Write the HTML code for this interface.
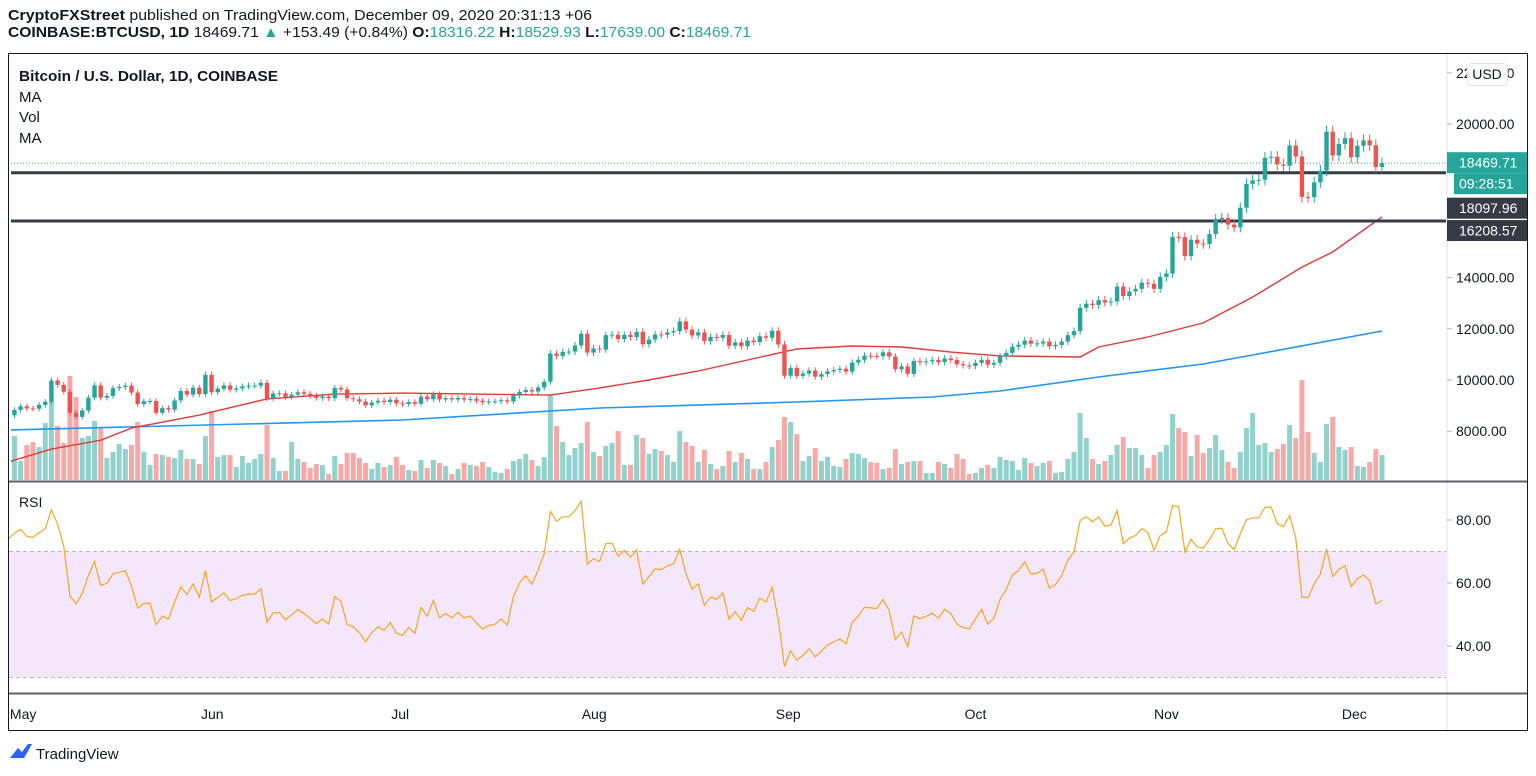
<!DOCTYPE html>
<html><head><meta charset="utf-8"><style>
html,body{margin:0;padding:0;background:#fff;width:1536px;height:776px;overflow:hidden;font-family:"Liberation Sans",sans-serif;}
svg{display:block}
text{font-family:"Liberation Sans",sans-serif;}
</style></head><body>
<svg id="chart" width="1536" height="776" viewBox="0 0 1536 776" xmlns="http://www.w3.org/2000/svg">
  <defs>
    <clipPath id="mainClip"><rect x="11" y="54" width="1435" height="426"/></clipPath>
    <clipPath id="rsiClip"><rect x="9" y="483" width="1437" height="209"/></clipPath>
    <clipPath id="timeClip"><rect x="9" y="694" width="1437" height="36"/></clipPath>
  </defs>
  <text x="8" y="20" font-size="15" fill="#131722" textLength="584" lengthAdjust="spacingAndGlyphs"><tspan font-weight="bold">CryptoFXStreet</tspan> published on TradingView.com, December 09, 2020 20:31:13 +06</text>
  <text x="8" y="37" font-size="15" fill="#131722" textLength="743" lengthAdjust="spacingAndGlyphs"><tspan font-weight="bold">COINBASE:BTCUSD, 1D</tspan> 18469.71 <tspan fill="#26a69a">▲</tspan> +153.49 (+0.84%) <tspan font-weight="bold">O:</tspan><tspan fill="#26a69a">18316.22</tspan> <tspan font-weight="bold">H:</tspan><tspan fill="#26a69a">18529.93</tspan> <tspan font-weight="bold">L:</tspan><tspan fill="#26a69a">17639.00</tspan> <tspan font-weight="bold">C:</tspan><tspan fill="#26a69a">18469.71</tspan></text>

  <rect x="8.5" y="53.5" width="1519" height="677" fill="#fff" stroke="#131722" stroke-width="1"/>
  <rect x="9" y="551.5" width="1437" height="126" fill="#f4e6fb"/>
  <line x1="9" y1="551.5" x2="1446" y2="551.5" stroke="#b9b4c0" stroke-dasharray="4,3"/>
  <line x1="9" y1="677.5" x2="1446" y2="677.5" stroke="#b9b4c0" stroke-dasharray="4,3"/>
  <line x1="1447" y1="54" x2="1447" y2="730" stroke="#e0e3eb"/>
  <line x1="9" y1="481.5" x2="1527" y2="481.5" stroke="#5d606b" stroke-width="2"/>
  <line x1="9" y1="693.5" x2="1527" y2="693.5" stroke="#5d606b" stroke-width="2"/>

  <g id="vol" clip-path="url(#mainClip)"></g>
  <g id="mas" clip-path="url(#mainClip)"></g>
  <g id="levels" clip-path="url(#mainClip)"></g>
  <g id="candles" clip-path="url(#mainClip)"></g>
  <g id="rsi" clip-path="url(#rsiClip)"></g>
  <g id="axes"></g>
  <g id="time" clip-path="url(#timeClip)"></g>

  <text x="19" y="81" font-size="15" font-weight="bold" fill="#131722" textLength="259" lengthAdjust="spacingAndGlyphs">Bitcoin / U.S. Dollar, 1D, COINBASE</text>
  <text x="19" y="102" font-size="15" fill="#131722">MA</text>
  <text x="19" y="122" font-size="15" fill="#131722">Vol</text>
  <text x="19" y="143" font-size="15" fill="#131722">MA</text>
  <text x="19" y="507" font-size="14" fill="#131722">RSI</text>

  <g>
    <path d="M10 758 L18 748 L22 752 L28 744 L32 744 L24 758 Z" fill="#2962ff"/>
    <text x="36" y="759" font-size="15" fill="#131722">TradingView</text>
  </g>
</svg>
<script>
// ---- data ----
const seedCloses = [6640,6800,6740,6870,6780,7340,7200,7370,7300,6860,6890,6910,6860,6870,6630,7100,7030,7250,7130,6850,6860,7130,7490,7510,7540,7700,7790,7760,8780];
const firstOpen = 8780;
const closes = [8620,
8830,8970,8890,8880,9030,9150,9980,9810,9540,8720,8560,8810,9310,9790,9310,9380,9680,9730,9780,9510,9060,9170,9180,8720,8900,8840,9200,9570,9430,9700,9450,
10200,9520,9660,9790,9620,9670,9750,9780,9780,9890,9280,9470,9480,9340,9430,9520,9460,9380,9300,9360,9290,9690,9630,9290,9250,9160,9010,9120,9190,9140,
9230,9090,9060,9140,9070,9350,9250,9440,9240,9290,9240,9300,9240,9260,9190,9130,9160,9170,9210,9160,9390,9530,9610,9550,9710,9930,11030,10940,11100,11110,11350,
11810,11070,11230,11190,11750,11770,11600,11760,11680,11880,11400,11580,11780,11770,11860,11910,12290,11970,11740,11860,11520,11680,11650,11760,11340,11470,11320,11540,11480,11710,11650,
11920,11390,10170,10470,10160,10250,10370,10130,10230,10340,10390,10440,10330,10680,10790,10950,10940,10930,11080,10920,10420,10530,10240,10740,10690,10730,10780,10700,10840,10780,
10620,10570,10550,10670,10790,10600,10670,10920,11060,11300,11380,11540,11420,11430,11500,11320,11370,11500,11750,11910,12820,12980,12930,13120,13030,13070,13650,13280,13460,13560,13800,
13760,13560,14030,14160,15590,15580,14840,15480,15330,15310,15700,16290,16330,16070,15960,16730,17660,17800,17820,18680,18720,18420,18370,19160,18730,17150,17140,17720,18180,19700,
18770,19220,19450,18700,19150,19360,19170,18316.22,18469.71];
const volumes = [94,45,20,36,39,34,58,80,55,38,105,84,43,45,60,53,23,29,37,32,36,59,29,16,27,26,24,23,31,22,22,17,45,70,24,26,26,14,25,18,22,27,56,23,10,10,39,22,19,13,17,16,7,25,17,28,28,23,18,12,18,14,16,24,
16,11,10,21,13,21,18,15,7,12,18,16,15,19,14,9,8,12,20,22,27,21,15,24,87,55,39,26,33,38,59,29,25,35,38,50,16,16,46,43,27,32,30,26,19,50,39,35,19,31,17,12,15,30,19,28,22,12,12,19,34,41,64,59,47,
20,25,33,20,24,15,14,22,28,27,23,19,18,12,13,32,17,19,20,20,8,8,19,17,13,27,22,7,8,13,16,13,24,21,20,11,23,18,15,18,20,8,9,22,29,68,43,22,17,20,26,36,44,33,33,26,13,26,29,36,67,53,49,25,46,
28,33,46,31,19,13,29,53,68,36,38,29,32,37,56,43,101,49,28,19,57,64,34,31,34,15,14,19,32,26];
const ma50Idx = [0,7,15,20,31,42,53,64,88,96,104,112,120,128,137,145,153,161,174,177,185,194,202,210,215,223];
const ma50Val = [6800,7300,7650,8120,8630,9260,9450,9490,9410,9690,10000,10350,10780,11210,11330,11290,11090,10940,10900,11290,11680,12230,13240,14410,15000,16370];
const ma200Idx = [0,64,96,128,150,161,177,194,202,223];
const ma200Val = [8047,8437,8906,9141,9336,9570,10117,10625,10977,11914];
const levels = [18097.96,16208.57];
const lastPrice = 18469.71;
const priceTicks = [22000,20000,14000,12000,10000,8000];
const rsiTicks = [80,60,40];
const monthLabels = ["May","Jun","Jul","Aug","Sep","Oct","Nov","Dec"];
const monthDayIdx = [1.6,32.3,62.8,94.3,125.8,156.2,187.2,217.7];

// ---- axes ----
const NS="http://www.w3.org/2000/svg";
const xOf = i => 8.3 + i*6.16;
const yP = p => 380 - (p-10000)*0.0256;
const yV = v => 481 - v;
const yR = r => 520 + (80-r)*3.15;
function mk(tag, attrs, parent){const e=document.createElementNS(NS,tag);for(const k in attrs)e.setAttribute(k,attrs[k]);parent.appendChild(e);return e;}
const G=id=>document.getElementById(id);
const UP="#26a69a", DN="#ef5350";

// volume
closes.forEach((c,i)=>{
  const o = i===0?firstOpen:closes[i-1];
  const r = mk('rect',{x:xOf(i)-2.5,y:yV(volumes[i]),width:5,height:volumes[i],fill:c>=o?"#92d2cc":"#f7a9a7"},G('vol'));
  
  
});
// moving averages
function line(idx,val,color,w,name){
  const d = idx.map((ix,k)=>(k?'L':'M')+xOf(ix).toFixed(1)+' '+yP(val[k]).toFixed(1)).join(' ');
  const p = mk('path',{d:d,fill:'none',stroke:color,'stroke-width':w},G('mas'));
  
  
}
line(ma200Idx,ma200Val,"#2196f3",1.6,'ma200-line');
line(ma50Idx,ma50Val,"#e03a3a",1.4,'ma50-line');
// levels
levels.forEach(l=>{
  const ln = mk('line',{x1:8,x2:1447,y1:yP(l),y2:yP(l),stroke:"#363a45",'stroke-width':3},G('levels'));
  
  
});
const pl = mk('line',{x1:8,x2:1447,y1:yP(lastPrice),y2:yP(lastPrice),stroke:UP,'stroke-width':1,'stroke-dasharray':'1,2'},G('levels'));


// candles
closes.forEach((c,i)=>{
  const o = i===0?firstOpen:closes[i-1];
  const col = c>=o?UP:DN;
  const hi=Math.max(o,c)*1.012, lo=Math.min(o,c)*0.988;
  const g = mk('g',{},G('candles'));
  
  
  mk('line',{x1:xOf(i),x2:xOf(i),y1:yP(hi),y2:yP(lo),stroke:col,'stroke-width':1},g);
  const top=yP(Math.max(o,c)), bot=yP(Math.min(o,c));
  mk('rect',{x:xOf(i)-2.2,y:top,width:4.4,height:Math.max(1,bot-top),fill:col},g);
});
// RSI
const all = seedCloses.concat(closes);
let ag=0, al=0; const rsi=[];
for(let i=1;i<all.length;i++){
  const ch=all[i]-all[i-1], gn=Math.max(ch,0), ls=Math.max(-ch,0);
  if(i<=14){ag+=gn/14; al+=ls/14;} else {ag=(ag*13+gn)/14; al=(al*13+ls)/14;}
  rsi.push(al===0?100:100-100/(1+ag/al));
}
const off = seedCloses.length-1;
let d='';
closes.forEach((c,i)=>{ d+=(i?'L':'M')+xOf(i).toFixed(1)+' '+yR(rsi[i+off]).toFixed(1)+' '; });
const rl = mk('path',{d:d,fill:'none',stroke:'#f5a623','stroke-width':1.2},G('rsi'));



// axis labels
priceTicks.forEach(p=>{
  mk('line',{x1:1447,x2:1452,y1:yP(p),y2:yP(p),stroke:'#b2b5be'},G('axes'));
  const t = mk('text',{x:1456,y:yP(p)+5,'font-size':14,fill:'#131722'},G('axes'));
  t.textContent=p.toFixed(2);
  
  
});
rsiTicks.forEach(r=>{
  mk('line',{x1:1447,x2:1452,y1:yR(r),y2:yR(r),stroke:'#b2b5be'},G('axes'));
  const t = mk('text',{x:1456,y:yR(r)+5,'font-size':14,fill:'#131722'},G('axes'));
  t.textContent=r.toFixed(2);
  
  
});
monthLabels.forEach((m,k)=>{
  const t = mk('text',{x:xOf(monthDayIdx[k])+5,y:719,'font-size':14,fill:'#131722','text-anchor':'middle'},G('time'));
  t.textContent=m;
  
  
});
// price tags
function tag(y,h,x,bg,txt,name){
  const g=mk('g',{},G('axes'));
  
  
  mk('rect',{x:x,y:y,width:1527-x,height:h,fill:bg},g);
  const t=mk('text',{x:1459,y:y+h/2+5,'font-size':14,fill:'#fff'},g); t.textContent=txt;
}
tag(yP(lastPrice)-11,21,1447,UP,lastPrice.toFixed(2),'last-price-tag');
tag(yP(lastPrice)+10,21,1454,UP,"09:28:51",'countdown-tag');
tag(yP(levels[0])+25,21,1447,"#363a45",levels[0].toFixed(2),'level-tag-upper');
tag(yP(levels[1])-1,21,1447,"#363a45",levels[1].toFixed(2),'level-tag-lower');
const ub=mk('g',{},G('axes'));


mk('rect',{x:1467.5,y:63.5,width:40,height:22,rx:4,fill:'#fff',stroke:'#e0e3eb'},ub);
const ut=mk('text',{x:1487,y:79,'font-size':14,fill:'#131722','text-anchor':'middle'},ub); ut.textContent="USD";
</script>
</body></html>
